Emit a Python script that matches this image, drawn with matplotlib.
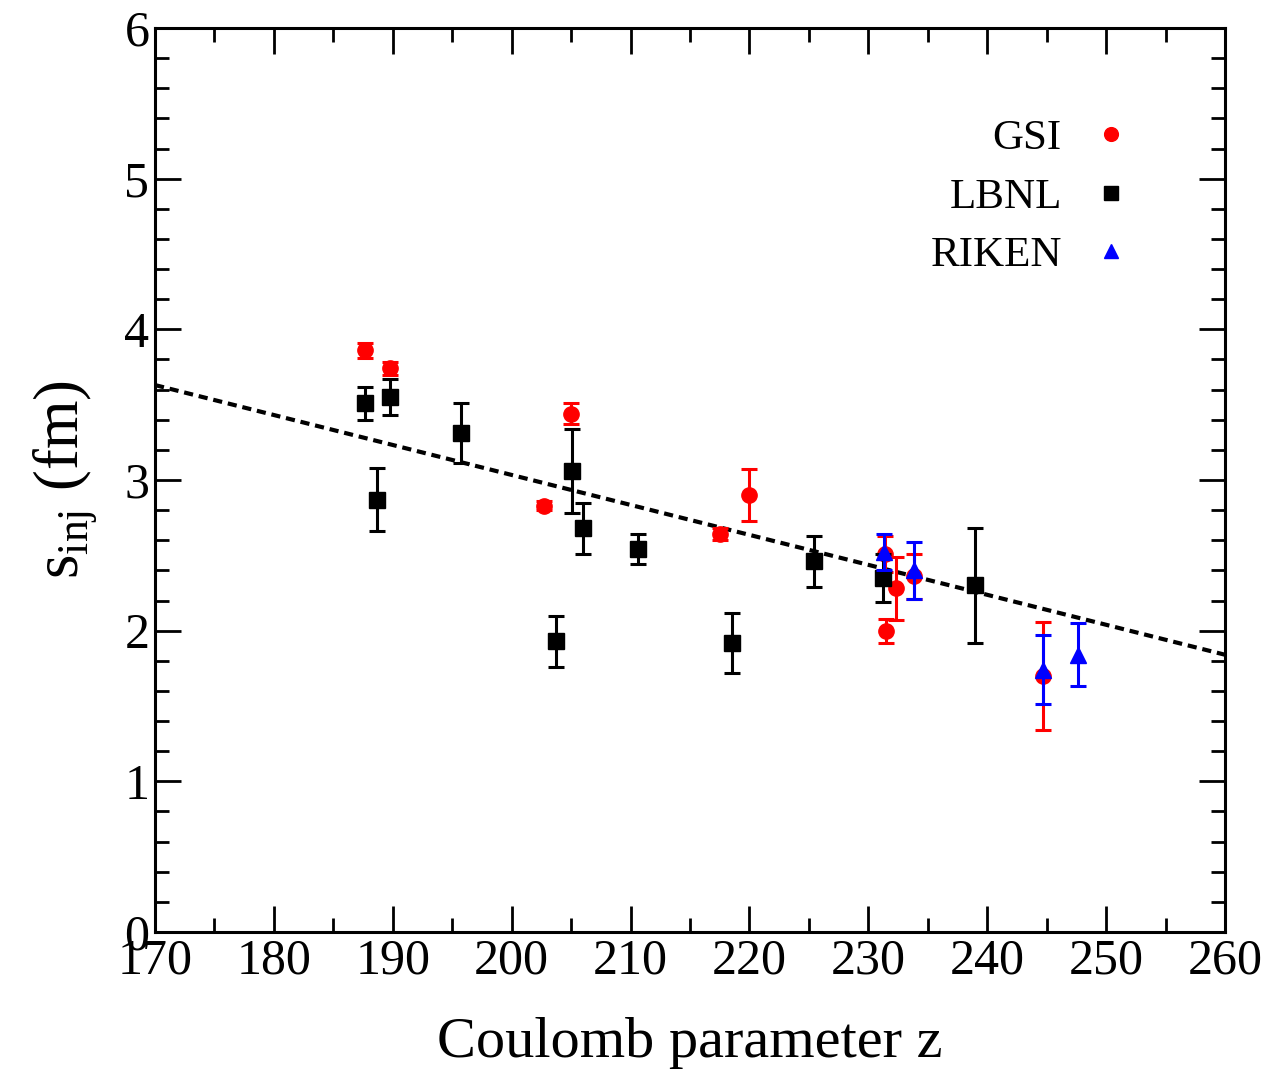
import numpy as np
import matplotlib
matplotlib.use("Agg")
from matplotlib import pyplot as plt
from matplotlib.ticker import MultipleLocator

plt.rcParams['font.family'] = ['Liberation Serif', 'DejaVu Serif']
plt.rcParams['mathtext.fontset'] = 'custom'
plt.rcParams['mathtext.rm'] = 'Liberation Serif'

# GSI data
gsi_z = [187.7, 189.8, 205.0, 202.7, 217.5, 220.0, 231.4, 232.3, 231.5, 233.8, 244.7]
gsi_s = [3.86, 3.74, 3.44, 2.83, 2.64, 2.90, 2.51, 2.28, 2.00, 2.36, 1.70]
gsi_err = [0.05, 0.04, 0.07, 0.03, 0.04, 0.17, 0.12, 0.21, 0.08, 0.15, 0.36]

# LBNL data
lbnl_z = [187.7, 189.8, 195.7, 188.7, 205.1, 206.0, 210.6, 203.7, 218.5, 225.4, 231.2, 239.0]
lbnl_s = [3.51, 3.55, 3.31, 2.87, 3.06, 2.68, 2.54, 1.93, 1.92, 2.46, 2.35, 2.30]
lbnl_err = [0.11, 0.12, 0.20, 0.21, 0.28, 0.17, 0.10, 0.17, 0.20, 0.17, 0.16, 0.38]

# RIKEN data
riken_z = [231.3, 233.8, 244.7, 247.6]
riken_s = [2.52, 2.40, 1.74, 1.84]
riken_err = [0.12, 0.19, 0.23, 0.21]

# linear fit endpoints
fit_z = [170, 260]
fit_s = [3.63, 1.84]

fig = plt.figure(figsize=(12.73, 10.69), dpi=100)
ax = fig.add_axes([0.1218, 0.1282, 0.8405, 0.8456])

ax.plot(fit_z, fit_s, color='black', lw=3, ls=(0, (2.2, 1.4)), zorder=1)

ax.errorbar(gsi_z, gsi_s, yerr=gsi_err, fmt='o', color='red', ms=11,
            elinewidth=2.2, capsize=6, capthick=2.2, label='GSI', zorder=2)
ax.errorbar(lbnl_z, lbnl_s, yerr=lbnl_err, fmt='s', color='black', ms=11,
            elinewidth=2.2, capsize=6, capthick=2.2, label='LBNL', zorder=3)
ax.errorbar(riken_z, riken_s, yerr=riken_err, fmt='^', color='blue', ms=11,
            elinewidth=2.2, capsize=6, capthick=2.2, label='RIKEN', zorder=4)

ax.set_xlim(170, 260)
ax.set_ylim(0, 6)
ax.xaxis.set_major_locator(MultipleLocator(10))
ax.xaxis.set_minor_locator(MultipleLocator(5))
ax.yaxis.set_major_locator(MultipleLocator(1))
ax.yaxis.set_minor_locator(MultipleLocator(0.2))
ax.tick_params(which='both', direction='in', top=True, right=True, width=2)
ax.tick_params(which='major', length=19, labelsize=36, pad=4)
ax.tick_params(which='minor', length=10)
for sp in ax.spines.values():
    sp.set_linewidth(2.2)

ax.set_xlabel('Coulomb parameter z', fontsize=42, labelpad=24)
ax.set_ylabel(r's$_\mathregular{inj}$ (fm)', fontsize=45, labelpad=18)

h, l = ax.get_legend_handles_labels()
h = [x[0] for x in h]
ax.legend(h, l, loc='upper right', bbox_to_anchor=(0.942, 0.942), frameon=False,
          markerfirst=False, fontsize=31, handlelength=0.6, handletextpad=0.85,
          labelspacing=0.45, markerscale=0.9)

fig.savefig('out.png', dpi=100)
